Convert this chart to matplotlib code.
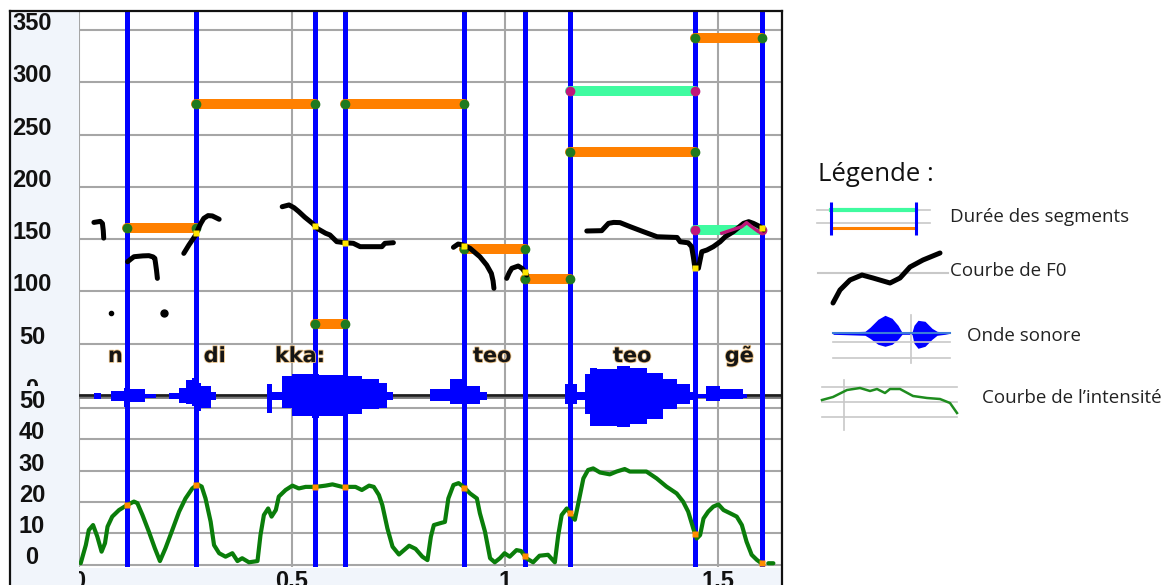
import numpy as np
import matplotlib
matplotlib.use("Agg")
import matplotlib.pyplot as plt
import matplotlib.transforms as mtransforms
import matplotlib.patheffects as pe
from matplotlib.patches import Rectangle
from matplotlib.lines import Line2D

nan = np.nan
# ---------------- data ----------------
boundaries_s = [0.1134, 0.2754, 0.554, 0.6244, 0.9045, 1.0469, 1.1526, 1.446, 1.6026]
syllables = ["n", "di", "kka:", "teo", "teo", "gẽ"]
syllable_t = [0.068, 0.2927, 0.46, 0.9249, 1.2535, 1.516]

orange_start = [0.1134, 0.2754, 0.6244, 0.554, 0.9045, 1.0469, 1.1526, 1.446]
orange_end = [0.2754, 0.554, 0.9045, 0.6244, 1.0469, 1.1526, 1.446, 1.6026]
orange_hz = [161, 279, 279, 68.6, 140.3, 111.6, 233, 342]
mint_start = [1.1526, 1.446]
mint_end = [1.446, 1.6026]
mint_hz = [291.7, 158.7]

f0_t = [0.035, 0.050, 0.055, 0.057, 0.058, nan,
        0.114, 0.122, 0.129, 0.150, 0.164, 0.174, 0.178, 0.180, 0.182, 0.184, nan,
        0.246, 0.258, 0.274, 0.280, 0.286, 0.293, 0.303, 0.313, 0.329, nan,
        0.477, 0.493, 0.505, 0.516, 0.530, 0.548, 0.560, 0.579, 0.589, 0.605, 0.624,
        0.644, 0.660, 0.683, 0.711, 0.718, 0.738, nan,
        0.879, 0.890, 0.902, 0.918, 0.930, 0.941, 0.957, 0.968, 0.972, 0.974, nan,
        1.004, 1.010, 1.016, 1.031, 1.040, 1.043, 1.051, nan,
        1.192, 1.227, 1.243, 1.255, 1.270, 1.294, 1.325, 1.357, 1.404, 1.411, 1.430,
        1.438, 1.442, 1.446, 1.454, 1.462, 1.474, 1.489, 1.505, 1.517, 1.536, 1.560,
        1.572, 1.583, 1.599, 1.607]
f0_hz = [166, 167, 165, 158, 151, nan,
         128.4, 131, 133.2, 134, 134.2, 133, 131.6, 126, 120, 112.5, nan,
         136.4, 144.4, 154, 160, 165.1, 169.9, 172.5, 172.2, 169, nan,
         181, 182.7, 180, 176.3, 171, 165.1, 160, 155.6, 154, 147.6, 146.6,
         146, 142.8, 142.8, 142.8, 146, 146.6, nan,
         142.2, 145.3, 144.4, 141.2, 137, 133.2, 125.2, 117.2, 110, 103, nan,
         112.5, 118, 122.1, 124.3, 122, 120.5, 115.7, nan,
         157.8, 158.1, 165.1, 166, 165.8, 161.9, 157.1, 152.3, 151.6, 147.5, 146.5,
         142.8, 133.2, 122.1, 122.1, 138, 139.6, 142.8, 147.5, 152.3, 157.1, 165.1,
         166.7, 165.1, 161.9, 158.7]
f0_dot_t = [0.074, 0.200]
f0_dot_hz = [79.7, 79.4]
f0_pink_t = [1.509, 1.536, 1.556, 1.567, 1.579, 1.595, 1.603]
f0_pink_hz = [155.6, 159.3, 161.9, 165.8, 161.9, 157.1, 159.3]

int_t = [0.004, 0.016, 0.023, 0.033, 0.043, 0.053, 0.061, 0.067, 0.078, 0.094,
         0.113, 0.129, 0.137, 0.149, 0.164, 0.178, 0.190, 0.203, 0.219, 0.235,
         0.250, 0.266, 0.278, 0.288, 0.297, 0.309, 0.317, 0.329, 0.344, 0.360,
         0.372, 0.383, 0.399, 0.419, 0.426, 0.434, 0.444, 0.452, 0.462, 0.469,
         0.485, 0.501, 0.516, 0.532, 0.556, 0.579, 0.595, 0.618, 0.649, 0.664,
         0.681, 0.692, 0.704, 0.712, 0.724, 0.736, 0.751, 0.775, 0.790, 0.806,
         0.818, 0.826, 0.833, 0.848, 0.859, 0.867, 0.879, 0.891, 0.902, 0.918,
         0.934, 0.941, 0.953, 0.965, 0.976, 0.988, 0.999, 1.011, 1.027, 1.038,
         1.050, 1.066, 1.081, 1.101, 1.117, 1.125, 1.133, 1.145, 1.156, 1.164,
         1.172, 1.184, 1.195, 1.207, 1.223, 1.246, 1.262, 1.281, 1.293, 1.332,
         1.356, 1.379, 1.403, 1.418, 1.430, 1.442, 1.450, 1.458, 1.466, 1.477,
         1.489, 1.501, 1.513, 1.528, 1.544, 1.556, 1.567, 1.579, 1.591, 1.602,
         nan, 1.618, 1.630]
int_db = [0.4, 6.2, 11, 12.6, 8.9, 4.1, 6.8, 12.1, 15.3, 17.4,
          19, 20.1, 19.6, 15.8, 10.5, 5.2, 1.1, 5.2, 11, 16.9,
          21.1, 24.3, 25.6, 24.9, 21.1, 13.7, 6.2, 3.6, 2.5, 3.6,
          1.1, 2, 0.7, 1.1, 9.4, 15.8, 17.9, 15.3, 17.4, 21.7,
          23.8, 25.2, 24.3, 24.8, 24.8, 25.2, 25.6, 24.8, 24.8, 23.8,
          25.2, 24.8, 22.2, 19, 11.5, 5.7, 3.2, 6, 5, 2.5,
          1.4, 8.9, 12.6, 13.2, 13.6, 21.1, 25.4, 26, 24.9, 22.7,
          21.1, 16.4, 10.5, 2, 0.7, 2, 3.6, 2.5, 4.6, 4.3,
          2, 0.7, 2.8, 3.1, 0.7, 9.4, 15.8, 17.9, 15.8, 14.3,
          19.5, 27.5, 30.2, 30.7, 29.4, 28.8, 29.7, 30.5, 29.7, 29.7,
          27.5, 24.9, 22.7, 20.1, 16.9, 11.5, 8.3, 9.4, 14.7, 16.9,
          18.5, 19.2, 17.4, 16.4, 15.3, 12.6, 7.3, 3.1, 1.5, 0.4,
          nan, 0.4, 0.4]

# waveform envelope (relative amplitude), piecewise constant between edges
wave_edges = [0.000, 0.035, 0.051, 0.074, 0.106, 0.117, 0.156, 0.180, 0.211, 0.235,
              0.250, 0.266, 0.274, 0.286, 0.309, 0.321, 0.442, 0.454, 0.477, 0.501,
              0.548, 0.563, 0.626, 0.665, 0.704, 0.724, 0.736, 0.824, 0.871, 0.902,
              0.910, 0.941, 0.957, 1.141, 1.168, 1.188, 1.200, 1.215, 1.262, 1.294,
              1.333, 1.372, 1.403, 1.434, 1.450, 1.473, 1.505, 1.559, 1.567, 1.650]
wave_up = [0, 3, 0, 5, 8, 6.5, 2, 0, 3, 8,
           16, 18, 13, 10, 4, 0, 12, 4, 20, 22,
           22, 21, 20, 17, 13, 4, 0, 6.5, 16.5, 13,
           10, 4, 0, 11.5, 4, 21.5, 28, 27, 30, 28,
           23, 17, 12, 4, 2, 10, 7, 2, 0]
wave_low = [0, -3, 0, -5, -11, -6, -2, 0, -3, -7,
            -8, -10, -15, -12, -4, 0, -17, -4, -12, -20,
            -22, -20, -18, -13, -12, -4, 0, -5, -8, -12,
            -8, -4, 0, -8, -4, -18, -30, -30, -31.5, -28,
            -23, -13, -8, -4, -2, -5, -3.3, -2, 0]

f0_ticks = [0, 50, 100, 150, 200, 250, 300, 350]
int_ticks = [0, 10, 20, 30, 40, 50]
time_ticks = [0, 0.5, 1, 1.5]
time_tick_labels = ["0", "0.5", "1", "1.5"]

# legend icon shapes (pixel coordinates of the legend panel)
leg_f0_x = [833, 840, 850, 862, 873, 890, 900, 910, 923, 940]
leg_f0_y = [303, 290, 280, 275, 278, 283, 278, 267, 260, 253]
leg_wave_x = [833, 865, 870, 878, 885, 892, 898, 902, 912, 914, 918, 925, 932, 937, 945, 950]
leg_wave_up = [1, 2, 6, 14, 18, 15, 8, 1, 1, 8, 13, 12, 5, 2, 1, 0]
leg_wave_low = [1, 2, 5, 11, 13, 11, 6, 1, 1, 10, 15, 13, 6, 2, 1, 0]
leg_int_x = [822, 833, 847, 860, 870, 877, 885, 890, 900, 913, 927, 940, 950, 957]
leg_int_y = [400, 397, 390, 388, 391, 389, 393, 389, 389, 396, 398, 399, 403, 413]

# ---------------- figure ----------------
W, H = 1170, 585
fig = plt.figure(figsize=(W / 100, H / 100), dpi=100)
fig.patch.set_facecolor("white")
px = mtransforms.Affine2D().scale(1 / W, -1 / H).translate(0, 1) + fig.transFigure

X0, X1, Y0, Y1 = 79, 782, 11, 567
PX_PER_S = 426.0
F0_ZERO_PX = 396.0
F0_PX_PER_HZ = (396.0 - 30.0) / 350.0
INT_ZERO_PX = 564.5
INT_PX_PER_DB = 3.13

ax = fig.add_axes([X0 / W, 1 - Y1 / H, (X1 - X0) / W, (Y1 - Y0) / H])
xmax = (X1 - X0) / PX_PER_S
ax.set_xlim(0, xmax)
ax.set_ylim(-(Y1 - F0_ZERO_PX) / F0_PX_PER_HZ, (F0_ZERO_PX - Y0) / F0_PX_PER_HZ)
ax.axis("off")


def int_to_f0(v):
    v = np.asarray(v, dtype=float)
    return (F0_ZERO_PX - INT_ZERO_PX + INT_PX_PER_DB * v) / F0_PX_PER_HZ


def amp_to_f0(a):
    return np.asarray(a, dtype=float) / F0_PX_PER_HZ


GRID = "#A6A6A6"
for v in f0_ticks[1:]:
    ax.axhline(v, color=GRID, lw=1.5, zorder=1)
for v in int_ticks:
    ax.plot([0, xmax], [int_to_f0(v)] * 2, color=GRID, lw=1.5, zorder=1)
for x in time_ticks:
    ax.axvline(x, color=GRID, lw=1.5, zorder=1)

# waveform
ax.axhline(0, color="#7a7a7a", lw=3.5, zorder=1.5)
ax.axhline(0.6, color="#1e1e1e", lw=1.8, zorder=1.6)
we = np.array(wave_edges)
wu = np.append(wave_up, wave_up[-1])
wl = np.append(wave_low, wave_low[-1])
ax.fill_between(we, amp_to_f0(wu), amp_to_f0(wl), step="post", color="#0000FF",
                lw=0, zorder=2.5)

# segment boundaries
ax.vlines(boundaries_s, ax.get_ylim()[0], ax.get_ylim()[1], colors="#0000FF",
          lw=3.6, zorder=3)

# intensity
it = np.array(int_t)
idb = np.array(int_db)
ax.plot(it, int_to_f0(idb), color="#0A7D0A", lw=3.0, zorder=4,
        solid_joinstyle="round", solid_capstyle="round")
ok = ~np.isnan(it)
for b in boundaries_s:
    if it[ok][0] <= b <= it[ok][-1]:
        ax.plot(b, int_to_f0(np.interp(b, it[ok], idb[ok])), "s", ms=4,
                color="#FF8C00", mec="none", zorder=4.5)

# duration bars
for s, e, v in zip(orange_start, orange_end, orange_hz):
    ax.plot([s, e], [v, v], color="#FF8000", lw=7.2, solid_capstyle="round", zorder=5)
    ax.plot([s, e], [v, v], "o", ms=7, color="#1F7A1F", mec="none", zorder=5.5)
for s, e, v in zip(mint_start, mint_end, mint_hz):
    ax.plot([s, e], [v, v], color="#3FFBA0", lw=7.2, solid_capstyle="round", zorder=5)
    ax.plot([s, e], [v, v], "o", ms=7, color="#C0177A", mec="none", zorder=5.5)

# F0
ft = np.array(f0_t)
fh = np.array(f0_hz)
ax.plot(ft, fh, color="black", lw=3.6, solid_capstyle="round",
        solid_joinstyle="round", zorder=6)
ax.plot(f0_pink_t, f0_pink_hz, color="#C0177A", lw=2.4, zorder=6.5)
ax.plot(f0_dot_t[:1], f0_dot_hz[:1], "o", ms=3, color="black", zorder=6)
ax.plot(f0_dot_t[1:], f0_dot_hz[1:], "o", ms=5, color="black", zorder=6)
breaks = np.where(np.isnan(ft))[0]
for idx in np.split(np.arange(len(ft)), breaks):
    idx = idx[~np.isnan(ft[idx])]
    tt = ft[idx]
    for b in boundaries_s:
        if len(tt) and tt[0] <= b <= tt[-1]:
            ax.plot(b, np.interp(b, tt, fh[idx]), "s", ms=4, color="#FFE600",
                    mec="none", zorder=7)

# syllable labels
for t, lab in zip(syllable_t, syllables):
    ax.text(t, 32.5, lab, fontsize=15, fontweight="bold", family="DejaVu Sans",
            color="#151515", ha="left", va="baseline", zorder=8,
            path_effects=[pe.withStroke(linewidth=1.2, foreground="#E8BE82")])

# ---------------- frame, strips and tick labels ----------------
STRIP = "#F1F5FB"
fig.add_artist(Rectangle((10, Y1 + 1), X1 - 10, H - Y1, transform=px,
                         facecolor=STRIP, edgecolor="none", zorder=0.2))
blend_x = mtransforms.blended_transform_factory(ax.transData, px)
for x, lab in zip(time_ticks, time_tick_labels):
    fig.text(x, 588, lab, transform=blend_x, ha="center", va="baseline",
             fontsize=17, fontweight="bold", family="Liberation Sans",
             color="#111111", zorder=0.5 if x == 0 else 3)
fig.add_artist(Rectangle((10, Y0), X0 - 10, H - Y0, transform=px,
                         facecolor=STRIP, edgecolor="none", zorder=1))

blend_y = mtransforms.blended_transform_factory(fig.transFigure, ax.transData)
for v in f0_ticks:
    fig.text(32 / W, v, str(v), transform=blend_y, ha="center", va="baseline",
             fontsize=17, fontweight="bold", family="Liberation Sans",
             color="#111111", zorder=3)
for v in int_ticks:
    fig.text(32 / W, float(int_to_f0(v)), str(v), transform=blend_y, ha="center",
             va="baseline", fontsize=17, fontweight="bold", family="Liberation Sans",
             color="#111111", zorder=3,
             bbox=dict(boxstyle="square,pad=0.15", facecolor=STRIP, edgecolor="none"))

for xs, ys in (([10, X1], [Y0, Y0]), ([10, 10], [Y0, H]), ([X1, X1], [Y0, H])):
    fig.add_artist(Line2D(xs, ys, transform=px, color="#111111", lw=1.6, zorder=4))

# ---------------- legend panel ----------------
lax = fig.add_axes([800 / W, 0, 370 / W, 1])
lax.set_xlim(800, 1170)
lax.set_ylim(585, 0)
lax.axis("off")
LG = "#C8C8C8"
TXT = "#222222"
lax.text(818, 181, "Légende :", fontsize=18.5, family="Open Sans", color="#111111",
         va="baseline", ha="left")

# durations icon
lax.plot([817, 930], [210, 210], color=LG, lw=1.2)
lax.plot([817, 930], [223.3, 223.3], color=LG, lw=1.2)
lax.plot([831, 916], [210, 210], color="#3FFBA0", lw=3)
lax.plot([831, 916], [227.7, 227.7], color="#FF8000", lw=2.2)
lax.vlines([831, 916], 201.7, 235, colors="#0000FF", lw=2.2)
lax.text(950, 221.7, "Durée des segments", fontsize=13.5, family="Open Sans",
         color=TXT, va="baseline")

# F0 icon
lax.plot([818, 948], [273.3, 273.3], color=LG, lw=1.5)
lax.plot(leg_f0_x, leg_f0_y, color="black", lw=3.6, solid_capstyle="round",
         solid_joinstyle="round")
lax.text(950, 276, "Courbe de F0", fontsize=13.5, family="Open Sans", color=TXT,
         va="baseline")

# waveform icon
lax.plot([833, 950], [341.7, 341.7], color=LG, lw=1.2)
lax.plot([833, 950], [358.3, 358.3], color=LG, lw=1.2)
lax.plot([911, 911], [315, 363], color=LG, lw=1.2)
lax.plot([833, 950], [333.3, 333.3], color="#3C7DD9", lw=1.5)
lwx = np.array(leg_wave_x)
lax.fill_between(lwx, 333.3 - np.array(leg_wave_up), 333.3 + np.array(leg_wave_low),
                 color="#0000FF", lw=0)
lax.text(966.7, 340.7, "Onde sonore", fontsize=13.5, family="Open Sans", color=TXT,
         va="baseline")

# intensity icon
for yy in (387.3, 401.7, 416.7):
    lax.plot([822, 957], [yy, yy], color=LG, lw=1.2)
lax.plot([844.3, 844.3], [380, 430], color=LG, lw=1.2)
lax.plot(leg_int_x, leg_int_y, color="#1E8C1E", lw=1.8)
lax.text(981.7, 402.7, "Courbe de l\u2019intensité", fontsize=13.5, family="Open Sans",
         color=TXT, va="baseline")

fig.savefig("out.png", dpi=100)
